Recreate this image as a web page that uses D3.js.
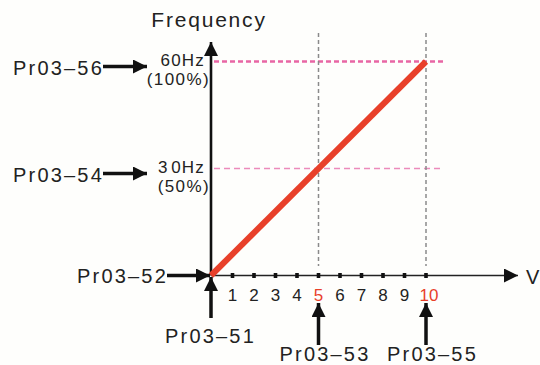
<!DOCTYPE html>
<html><head><meta charset="utf-8">
<script src="https://cdn.jsdelivr.net/npm/d3@7"></script>
<style>html,body{margin:0;padding:0;background:#fefefc;}svg{display:block;}</style>
</head><body>
<script>
const voltTicks = [1,2,3,4,5,6,7,8,9,10];
const highlightTicks = [5,10];
const linePoints = [{v:0,f:0},{v:10,f:60}];
const freqLevels = [{f:60,label:"60Hz",pct:"(100%)",param:"Pr03\u201356"},{f:30,label:"3\u200A0Hz",pct:"(50%)",param:"Pr03\u201354"}];
const voltMarks = [{v:5,param:"Pr03\u201353"},{v:10,param:"Pr03\u201355"}];
const originParams = {x:"Pr03\u201352", y:"Pr03\u201351"};
const axisTitles = {y:"Frequency", x:"V"};

const W=540,H=365;
const svg=d3.select("body").append("svg").attr("width",W).attr("height",H);
const font="Liberation Sans, Arial, sans-serif";
const x=d3.scaleLinear().domain([0,10]).range([211,426]);
const y=d3.scaleLinear().domain([0,60]).range([275.5,61.5]);

const defs=svg.append("defs");
defs.append("marker").attr("id","ah").attr("viewBox","0 0 10 10").attr("refX",10).attr("refY",5)
 .attr("markerWidth",15).attr("markerHeight",14).attr("markerUnits","userSpaceOnUse").attr("orient","auto")
 .append("path").attr("d","M0,0L10,5L0,10Z").attr("fill","#111");

function label(t,xx,yy,size,anchor,ls,fill){
  return svg.append("text").attr("x",xx).attr("y",yy).attr("text-anchor",anchor||"start")
   .attr("font-family",font).attr("font-size",size).attr("letter-spacing",ls||0)
   .attr("fill",fill||"#222").text(t);
}

// horizontal pink dashed lines
freqLevels.forEach((d,i)=>{
  svg.append("line").attr("x1",x(0)+3).attr("x2",443).attr("y1",y(d.f)).attr("y2",y(d.f))
   .attr("stroke",i===0?"#e866a4":"#ec8bbb").attr("stroke-width",i===0?2.6:1.4)
   .attr("stroke-dasharray",i===0?"5,3":"6,4");
});
// vertical gray dashed lines
voltMarks.forEach(d=>{
  svg.append("line").attr("x1",x(d.v)).attr("x2",x(d.v)).attr("y1",33).attr("y2",266)
   .attr("stroke","#8a8a8a").attr("stroke-width",1.5).attr("stroke-dasharray","4,3");
});
// x axis
svg.append("line").attr("x1",x(0)).attr("x2",518).attr("y1",y(0)).attr("y2",y(0))
 .attr("stroke","#222").attr("stroke-width",1.6).attr("marker-end","url(#ah)");
// y axis
svg.append("line").attr("x1",x(0)).attr("x2",x(0)).attr("y1",y(0)).attr("y2",42)
 .attr("stroke","#111").attr("stroke-width",2.6).attr("marker-end","url(#ah)");
// ticks
svg.selectAll(".tk").data(voltTicks).enter().append("rect")
 .attr("x",d=>x(d)-1.8).attr("y",y(0)-2.5).attr("width",3.6).attr("height",5).attr("fill","#111");
svg.selectAll(".tl").data(voltTicks).enter().append("text")
 .attr("x",d=>x(d)+(d===10?3:0)).attr("y",301).attr("text-anchor","middle")
 .attr("font-family",font).attr("font-size",17)
 .attr("fill",d=>highlightTicks.includes(d)?"#e8402a":"#222").text(d=>d);
// red line
svg.append("path").datum(linePoints)
 .attr("d",d3.line().x(d=>x(d.v)).y(d=>y(d.f)))
 .attr("stroke","#e8402a").attr("stroke-width",6).attr("fill","none");
// axis titles
label(axisTitles.y,209,27,21,"middle",1.8);
label(axisTitles.x,526,284,20,"start",0);
// freq labels
freqLevels.forEach(d=>{
  const yy=y(d.f);
  label(d.label,205,yy+4,17,"end",1.2);
  label(d.pct,210,yy+23,17,"end",1.4);
  label(d.param,13,yy+13,20,"start",2.2);
  svg.append("line").attr("x1",103).attr("x2",147).attr("y1",yy+5).attr("y2",yy+5)
   .attr("stroke","#111").attr("stroke-width",3.5).attr("marker-end","url(#ah)");
});
// origin params
label(originParams.x,77,283,20,"start",2.2);
svg.append("line").attr("x1",167).attr("x2",210).attr("y1",y(0)).attr("y2",y(0))
 .attr("stroke","#111").attr("stroke-width",3.5).attr("marker-end","url(#ah)");
svg.append("line").attr("x1",x(0)).attr("x2",x(0)).attr("y1",318).attr("y2",277)
 .attr("stroke","#111").attr("stroke-width",3.5).attr("marker-end","url(#ah)");
label(originParams.y,165,343,20,"start",2.2);
// volt mark params
voltMarks.forEach(d=>{
  svg.append("line").attr("x1",x(d.v)).attr("x2",x(d.v)).attr("y1",345).attr("y2",303)
   .attr("stroke","#111").attr("stroke-width",3.5).attr("marker-end","url(#ah)");
  label(d.param,x(d.v)-39,361,20,"start",2.2);
});
</script>
</body></html>
